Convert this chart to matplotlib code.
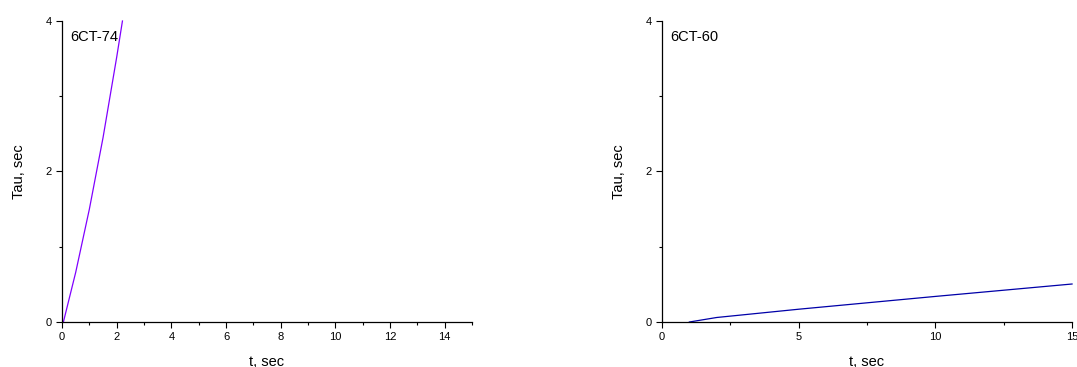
import numpy as np
import matplotlib
matplotlib.use('Agg')
import matplotlib.pyplot as plt
from matplotlib.ticker import MultipleLocator

plt.rcParams['font.family'] = ['Liberation Sans', 'DejaVu Sans']

# 6CT-74
t74 = [0.05, 0.5, 1.0, 1.5, 2.0, 2.21]
tau74 = [0.0, 0.66, 1.50, 2.45, 3.52, 4.0]
# 6CT-60
t60 = [1.0, 2.0, 5.0, 10.0, 15.0]
tau60 = [0.0, 0.06, 0.17, 0.34, 0.505]

panels = [
    ('6CT-74', t74, tau74, '#8000ff', 2, 1, 0.0576),
    ('6CT-60', t60, tau60, '#0000a8', 5, 2.5, 0.6147),
]

fig = plt.figure(figsize=(10.77, 3.67), dpi=100)

for name, t, tau, col, maj, mnr, x0 in panels:
    ax = fig.add_axes([x0, 0.1226, 0.3807, 0.8202])
    ax.plot(t, tau, color=col, lw=0.9, clip_on=False)
    ax.set_xlim(0, 15)
    ax.set_ylim(0, 4)
    ax.xaxis.set_major_locator(MultipleLocator(maj))
    ax.xaxis.set_minor_locator(MultipleLocator(mnr))
    ax.yaxis.set_major_locator(MultipleLocator(2))
    ax.yaxis.set_minor_locator(MultipleLocator(1))
    for s in ['top', 'right']:
        ax.spines[s].set_visible(False)
    for s in ['left', 'bottom']:
        ax.spines[s].set_linewidth(0.9)
    ax.tick_params(which='major', direction='out', length=4, width=0.8,
                   labelsize=8, pad=3.5)
    ax.tick_params(which='minor', direction='out', length=2.2, width=0.8)
    ax.set_xlabel('t, sec', fontsize=10.5, labelpad=9)
    ax.set_ylabel('Tau, sec', fontsize=10.5, labelpad=14)
    ax.text(0.02, 0.97, name, transform=ax.transAxes, fontsize=10.5,
            va='top', ha='left')

plt.savefig('out.png', dpi=100)
